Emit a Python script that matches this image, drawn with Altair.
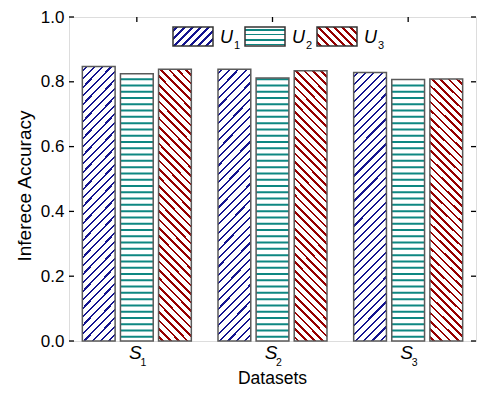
import math
import altair as alt
import pandas as pd

# ---------------- data ----------------
datasets = ["S1", "S2", "S3"]
dataset_subs = ["1", "2", "3"]
series = ["U1", "U2", "U3"]
series_subs = ["1", "2", "3"]
u1_values = [0.847, 0.839, 0.829]
u2_values = [0.825, 0.812, 0.807]
u3_values = [0.839, 0.834, 0.809]
y_tick_values = [0.0, 0.2, 0.4, 0.6, 0.8, 1.0]

rows = []
for s, vals in zip(series, [u1_values, u2_values, u3_values]):
    for d, v in zip(datasets, vals):
        rows.append({"Dataset": d, "Series": s, "Value": v})
df = pd.DataFrame(rows)
df_ds = pd.DataFrame({"Dataset": datasets, "sub": dataset_subs})
df_yt = pd.DataFrame({"Value": y_tick_values})
one = pd.DataFrame({"k": [0]})

# ---------------- style ----------------
FONT = "Liberation Sans"
W, H = 407, 324
TOP = 17  # absolute page y of plot top (8px page margin + 9px padding)
COLORS = {"U1": "#14148f", "U2": "#0e8782", "U3": "#960000"}
KIND = {"U1": "/", "U2": "h", "U3": "\\"}
THICK = {"U1": 1.5, "U2": 2.0, "U3": 1.9}
STROKE = "#5a5a5a"
HATCH_STEP = 0.0194   # spacing of the horizontal hatch (value units)
HATCH_LINE = 0.0062   # thickness of the horizontal hatch (value units)


def stripes(color, bw, bh, period, thick, kind):
    if kind == "h":
        L = bh
        coords = dict(x1=0, y1=0, x2=0, y2=1)
        th = thick
    else:
        L = bw + bh
        k = L / (bw * bw + bh * bh)
        if kind == "/":
            coords = dict(x1=0, y1=0, x2=bw * k, y2=bh * k)
        else:
            coords = dict(x1=0, y1=1, x2=bw * k, y2=1 - bh * k)
        th = thick * math.sqrt(2)
    stops = [{"offset": 0.0, "color": "white"}]
    c = period / 2.0
    while c - th / 2 < L:
        a = max(0.0, (c - th / 2) / L)
        b = min(1.0, (c + th / 2) / L)
        stops += [
            {"offset": a, "color": "white"},
            {"offset": a, "color": color},
            {"offset": b, "color": color},
            {"offset": b, "color": "white"},
        ]
        c += period
    stops.append({"offset": 1.0, "color": "white"})
    return dict(gradient="linear", stops=stops, **coords)


BAR_W, BAR_H = 32.8, 268.0
PERIOD = {"U1": 8.3, "U3": 8.3}

x_enc = alt.X("Dataset:N", scale=alt.Scale(domain=datasets, paddingInner=0, paddingOuter=0),
              axis=alt.Axis(labels=False, ticks=False, domain=False, title=None))
xo_enc = alt.XOffset("Series:N", scale=alt.Scale(domain=series, paddingInner=0.14, paddingOuter=0.35))
y_enc = alt.Y("Value:Q", scale=alt.Scale(domain=[0, 1], nice=False),
              axis=alt.Axis(values=y_tick_values, format=".1f", labelFont=FONT, labelFontSize=17,
                            labelColor="black", labelPadding=5, ticks=False, domain=False,
                            grid=False, title=None))

layers = []

# inward ticks
layers.append(alt.Chart(df_yt).mark_rule(color="black", strokeWidth=1.3).encode(
    y=y_enc, x=alt.value(0), x2=alt.value(5)))
layers.append(alt.Chart(df_yt).mark_rule(color="black", strokeWidth=1.3).encode(
    y="Value:Q", x=alt.value(W - 5), x2=alt.value(W)))
layers.append(alt.Chart(df_ds).mark_rule(color="black", strokeWidth=1.3).encode(
    x=x_enc, y=alt.value(0), y2=alt.value(5)))

# bars with diagonal hatching (U1, U3)
for s in ["U1", "U3"]:
    grad = stripes(COLORS[s], BAR_W, BAR_H, PERIOD[s], THICK[s], KIND[s])
    layers.append(
        alt.Chart(df).transform_filter(alt.datum.Series == s)
        .mark_bar(fill=grad, stroke=STROKE, strokeWidth=1.5)
        .encode(x=x_enc, xOffset=xo_enc, y=y_enc)
    )

# U2 bars with horizontal hatching
u2 = alt.Chart(df).transform_filter(alt.datum.Series == "U2")
layers.append(u2.mark_bar(fill="white").encode(x=x_enc, xOffset=xo_enc, y=y_enc))
layers.append(
    u2.transform_calculate(lo=f"sequence({HATCH_STEP / 2}, datum.Value - 0.004, {HATCH_STEP})")
    .transform_flatten(["lo"])
    .transform_calculate(hi=f"datum.lo + {HATCH_LINE}")
    .mark_bar(color=COLORS["U2"])
    .encode(x=x_enc, xOffset=xo_enc, y="lo:Q", y2="hi:Q")
)
layers.append(u2.mark_bar(fillOpacity=0, stroke=STROKE, strokeWidth=1.5)
              .encode(x=x_enc, xOffset=xo_enc, y=y_enc))

# x category labels S with subscripts
layers.append(alt.Chart(df_ds).mark_text(text="S", font=FONT, fontSize=19, fontStyle="italic",
                                         baseline="alphabetic", align="center", dx=-1.5, color="black")
              .encode(x=x_enc, y=alt.value(359 - TOP)))
layers.append(alt.Chart(df_ds).mark_text(font=FONT, fontSize=10.5, baseline="alphabetic",
                                         align="center", dx=6.5, color="black")
              .encode(x=x_enc, y=alt.value(366 - TOP), text="sub:N"))

# axis titles
layers.append(alt.Chart(one).mark_text(text="Datasets", font=FONT, fontSize=17.5, baseline="alphabetic",
                                       align="center", color="black")
              .encode(x=alt.value(W / 2), y=alt.value(383.5 - TOP)))
layers.append(alt.Chart(one).mark_text(text="Inferece Accuracy", font=FONT, fontSize=19, angle=270,
                                       baseline="middle", align="center", color="black")
              .encode(x=alt.value(-44), y=alt.value(186 - TOP)))

# legend
legend_x = [104, 176, 248]
LEG_W, LEG_H = 40, 19
for s, sub, lx in zip(series, series_subs, legend_x):
    grad = stripes(COLORS[s], LEG_W, LEG_H, 5.0 if s == "U2" else 8.0, THICK[s], KIND[s])
    layers.append(alt.Chart(one).mark_rect(fill=grad, stroke="#333333", strokeWidth=1.5)
                  .encode(x=alt.value(lx), x2=alt.value(lx + LEG_W),
                          y=alt.value(27 - TOP), y2=alt.value(27 - TOP + LEG_H)))
    layers.append(alt.Chart(one).mark_text(text="U", font=FONT, fontSize=18, fontStyle="italic",
                                           baseline="alphabetic", align="left", color="black")
                  .encode(x=alt.value(lx + 47), y=alt.value(43 - TOP)))
    layers.append(alt.Chart(one).mark_text(text=sub, font=FONT, fontSize=11,
                                           baseline="alphabetic", align="left", color="black")
                  .encode(x=alt.value(lx + 61), y=alt.value(49 - TOP)))

chart = alt.layer(*layers).properties(
    width=W, height=H,
    autosize=alt.AutoSizeParams(type="none"),
    padding={"left": 61, "top": 9, "right": 1, "bottom": 46},
).configure_view(stroke="black", strokeWidth=1.5).configure(background="white")

chart.save("out.html", embed_options={"renderer": "svg", "actions": False})
